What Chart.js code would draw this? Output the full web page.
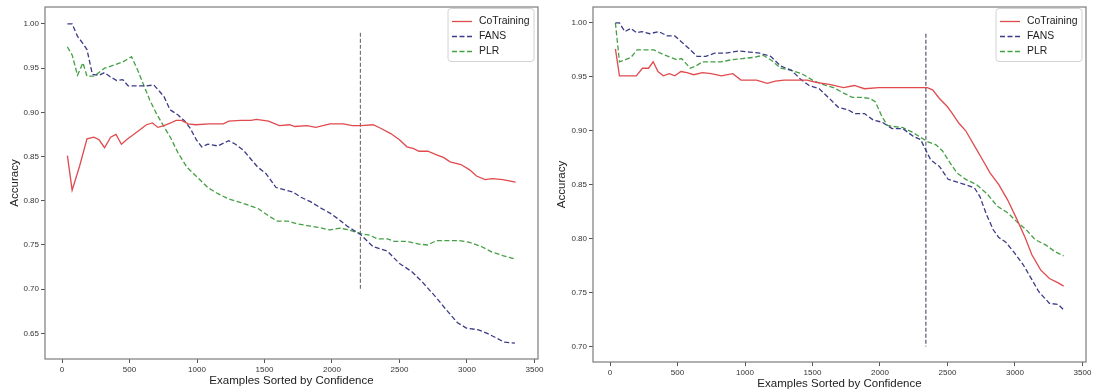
<!DOCTYPE html>
<html>
<head>
<meta charset="utf-8">
<script src="https://cdn.jsdelivr.net/npm/chart.js@4.4.1/dist/chart.umd.min.js"></script>
<style>
  html, body { margin: 0; padding: 0; background: #ffffff; }
  #wrap { position: relative; width: 1094px; height: 392px; }
  canvas { position: absolute; top: 0; }
  #cLeft { left: 0; }
  #cRight { left: 547px; }
</style>
</head>
<body>
<div id="wrap">
  <canvas id="cLeft" width="547" height="392"></canvas>
  <canvas id="cRight" width="547" height="392"></canvas>
</div>
<script>
// ---------- data ----------
const seriesNames = ['CoTraining', 'FANS', 'PLR'];
const xTicks = [0, 500, 1000, 1500, 2000, 2500, 3000, 3500];
const leftYTicks = [0.65, 0.70, 0.75, 0.80, 0.85, 0.90, 0.95, 1.00];
const rightYTicks = [0.70, 0.75, 0.80, 0.85, 0.90, 0.95, 1.00];

// Left panel
const leftCoX = [40, 75, 130, 185, 235, 275, 315, 360, 400, 440, 485, 530, 575, 625, 670, 710, 755, 805, 845, 885, 935, 990, 1090, 1195, 1235, 1325, 1400, 1440, 1530, 1610, 1685, 1725, 1815, 1880, 1985, 2085, 2150, 2215, 2305, 2360, 2435, 2500, 2555, 2605, 2645, 2710, 2775, 2825, 2875, 2955, 3020, 3070, 3135, 3185, 3265, 3360];
const leftCoY = [0.851, 0.812, 0.839, 0.870, 0.872, 0.869, 0.860, 0.872, 0.875, 0.864, 0.870, 0.875, 0.880, 0.886, 0.888, 0.883, 0.885, 0.888, 0.891, 0.891, 0.887, 0.886, 0.887, 0.887, 0.890, 0.891, 0.891, 0.892, 0.890, 0.885, 0.886, 0.884, 0.885, 0.883, 0.887, 0.887, 0.885, 0.885, 0.886, 0.882, 0.876, 0.869, 0.861, 0.859, 0.856, 0.856, 0.852, 0.849, 0.844, 0.841, 0.835, 0.828, 0.824, 0.825, 0.824, 0.821];

const leftFansX = [40, 75, 115, 150, 185, 225, 275, 315, 360, 405, 450, 490, 550, 625, 680, 715, 755, 800, 860, 910, 950, 995, 1035, 1080, 1155, 1235, 1285, 1345, 1400, 1450, 1510, 1585, 1660, 1710, 1770, 1840, 1915, 1985, 2050, 2115, 2210, 2305, 2410, 2500, 2590, 2670, 2775, 2850, 2930, 2995, 3085, 3150, 3215, 3275, 3355];
const leftFansY = [1.000, 1.000, 0.986, 0.979, 0.971, 0.943, 0.942, 0.945, 0.940, 0.936, 0.937, 0.930, 0.930, 0.930, 0.931, 0.925, 0.918, 0.903, 0.897, 0.890, 0.882, 0.869, 0.861, 0.864, 0.862, 0.868, 0.864, 0.857, 0.847, 0.838, 0.831, 0.815, 0.812, 0.810, 0.804, 0.799, 0.792, 0.786, 0.779, 0.771, 0.762, 0.748, 0.743, 0.729, 0.720, 0.708, 0.690, 0.676, 0.662, 0.656, 0.654, 0.650, 0.645, 0.640, 0.639];

const leftPlrX = [40, 75, 115, 155, 185, 240, 315, 395, 450, 515, 560, 605, 650, 705, 755, 805, 860, 925, 1000, 1080, 1155, 1235, 1325, 1400, 1455, 1530, 1595, 1675, 1740, 1815, 1895, 1985, 2060, 2125, 2210, 2280, 2335, 2410, 2460, 2555, 2645, 2710, 2775, 2865, 2940, 3020, 3110, 3185, 3265, 3360];
const leftPlrY = [0.974, 0.965, 0.942, 0.956, 0.941, 0.941, 0.950, 0.954, 0.957, 0.963, 0.948, 0.931, 0.914, 0.897, 0.884, 0.871, 0.854, 0.838, 0.827, 0.815, 0.808, 0.802, 0.798, 0.794, 0.791, 0.783, 0.777, 0.777, 0.774, 0.772, 0.770, 0.767, 0.769, 0.767, 0.763, 0.761, 0.757, 0.757, 0.754, 0.754, 0.751, 0.750, 0.755, 0.755, 0.755, 0.753, 0.748, 0.742, 0.738, 0.734];

const leftCutX = [2210, 2210];
const leftCutY = [0.990, 0.700];

// Right panel
const rightCoX = [40, 70, 130, 195, 240, 285, 320, 355, 395, 440, 480, 525, 570, 620, 685, 750, 825, 910, 970, 1020, 1085, 1165, 1225, 1290, 1395, 1460, 1525, 1625, 1730, 1810, 1885, 1990, 2080, 2170, 2275, 2350, 2390, 2440, 2495, 2530, 2585, 2635, 2700, 2765, 2815, 2880, 2945, 3010, 3075, 3125, 3190, 3255, 3320, 3360];
const rightCoY = [0.976, 0.951, 0.951, 0.951, 0.958, 0.958, 0.964, 0.955, 0.951, 0.953, 0.951, 0.955, 0.954, 0.952, 0.954, 0.953, 0.951, 0.953, 0.947, 0.947, 0.947, 0.944, 0.946, 0.947, 0.947, 0.947, 0.945, 0.943, 0.940, 0.942, 0.939, 0.940, 0.940, 0.940, 0.940, 0.940, 0.938, 0.930, 0.923, 0.917, 0.907, 0.900, 0.886, 0.872, 0.861, 0.850, 0.836, 0.819, 0.801, 0.785, 0.771, 0.763, 0.759, 0.756];

const rightFansX = [40, 70, 110, 155, 195, 235, 295, 360, 425, 480, 515, 570, 645, 710, 775, 855, 955, 1035, 1110, 1190, 1265, 1345, 1410, 1475, 1550, 1625, 1690, 1770, 1810, 1885, 1950, 2015, 2090, 2170, 2245, 2300, 2340, 2375, 2440, 2505, 2555, 2635, 2700, 2740, 2790, 2840, 2880, 2930, 2995, 3060, 3125, 3175, 3255, 3320, 3360];
const rightFansY = [1.000, 1.000, 0.992, 0.995, 0.991, 0.992, 0.990, 0.992, 0.988, 0.988, 0.984, 0.978, 0.969, 0.969, 0.972, 0.972, 0.974, 0.973, 0.972, 0.969, 0.960, 0.956, 0.948, 0.942, 0.939, 0.930, 0.922, 0.919, 0.916, 0.916, 0.910, 0.908, 0.902, 0.902, 0.895, 0.892, 0.882, 0.873, 0.867, 0.855, 0.853, 0.850, 0.847, 0.839, 0.822, 0.808, 0.801, 0.797, 0.787, 0.776, 0.762, 0.751, 0.740, 0.739, 0.734];

const rightPlrX = [40, 70, 115, 155, 200, 285, 325, 390, 450, 495, 530, 595, 635, 685, 750, 825, 905, 980, 1060, 1135, 1200, 1265, 1345, 1420, 1500, 1575, 1655, 1730, 1795, 1860, 1925, 1965, 2015, 2055, 2105, 2170, 2235, 2300, 2350, 2415, 2465, 2520, 2570, 2635, 2715, 2790, 2870, 2945, 3010, 3085, 3150, 3230, 3295, 3360];
const rightPlrY = [1.000, 0.964, 0.966, 0.968, 0.975, 0.975, 0.975, 0.971, 0.968, 0.966, 0.967, 0.958, 0.960, 0.964, 0.964, 0.964, 0.966, 0.967, 0.968, 0.970, 0.965, 0.958, 0.956, 0.953, 0.947, 0.943, 0.940, 0.935, 0.931, 0.931, 0.930, 0.927, 0.913, 0.905, 0.904, 0.903, 0.899, 0.894, 0.890, 0.887, 0.881, 0.870, 0.861, 0.855, 0.850, 0.842, 0.830, 0.824, 0.816, 0.808, 0.799, 0.794, 0.788, 0.784];

const rightCutX = [2340, 2340];
const rightCutY = [0.990, 0.700];

// ---------- styling ----------
const FONT = '"Liberation Sans", Arial, sans-serif';
const colors = { co: '#e04a4e', fans: '#3b3b88', plr: '#45a045' };

function pts(xs, ys) { return xs.map((x, i) => ({ x: x, y: ys[i] })); }

function seriesSet(coX, coY, fX, fY, pX, pY, cutX, cutY, cutColor) {
  return [
    { label: seriesNames[0], data: pts(coX, coY), borderColor: colors.co, borderWidth: 1.3, borderDash: [] },
    { label: seriesNames[1], data: pts(fX, fY), borderColor: colors.fans, borderWidth: 1.3, borderDash: [5, 2.5] },
    { label: seriesNames[2], data: pts(pX, pY), borderColor: colors.plr, borderWidth: 1.3, borderDash: [5, 2.5] },
    { label: '', skipLegend: true, data: pts(cutX, cutY), borderColor: cutColor, borderWidth: 1, borderDash: [4, 2] }
  ];
}

const framePlugin = {
  id: 'axesFrame',
  afterDatasetsDraw(chart) {
    const { ctx, chartArea: a } = chart;
    ctx.save();
    ctx.strokeStyle = '#7c7c7c';
    ctx.lineWidth = 1.2;
    ctx.strokeRect(a.left, a.top, a.right - a.left, a.bottom - a.top);
    ctx.restore();
  }
};

const legendPlugin = {
  id: 'boxLegend',
  afterDraw(chart) {
    const { ctx, chartArea: a } = chart;
    const items = chart.data.datasets.filter(d => !d.skipLegend);
    const w = 86, h = 53;
    const right = a.right - 4, left = right - w, top = a.top + 1.5;
    ctx.save();
    ctx.beginPath();
    if (ctx.roundRect) ctx.roundRect(left, top, w, h, 3); else ctx.rect(left, top, w, h);
    ctx.fillStyle = 'rgba(255,255,255,0.85)';
    ctx.fill();
    ctx.strokeStyle = '#d2d2d2';
    ctx.lineWidth = 1;
    ctx.stroke();
    items.forEach((d, i) => {
      const y = top + 13 + i * 15;
      ctx.strokeStyle = d.borderColor;
      ctx.lineWidth = d.borderWidth;
      ctx.setLineDash(d.borderDash || []);
      ctx.beginPath();
      ctx.moveTo(left + 4, y);
      ctx.lineTo(left + 24, y);
      ctx.stroke();
      ctx.setLineDash([]);
      ctx.fillStyle = '#222222';
      ctx.font = '10.4px ' + FONT;
      ctx.textBaseline = 'middle';
      ctx.textAlign = 'left';
      ctx.fillText(d.label, left + 31, y);
    });
    ctx.restore();
  }
};

function makeChart(id, datasets, yMin, yMax, yTicks, opts) {
  return new Chart(document.getElementById(id), {
    type: 'line',
    data: { datasets: datasets },
    options: {
      responsive: false,
      devicePixelRatio: 1,
      animation: false,
      parsing: true,
      elements: { point: { radius: 0 }, line: { tension: 0, fill: false } },
      layout: { padding: { top: 7, right: opts.padRight, left: 0, bottom: 0 } },
      plugins: { legend: { display: false }, tooltip: { enabled: false } },
      scales: {
        x: {
          type: 'linear',
          min: -126, max: 3526,
          afterFit: s => { s.height = opts.xAxisHeight; },
          afterBuildTicks: s => { s.ticks = xTicks.map(v => ({ value: v })); },
          grid: { drawOnChartArea: false, drawTicks: true, tickLength: 4, tickColor: '#555' },
          border: { display: false },
          ticks: { font: { family: FONT, size: 8 }, color: '#333', padding: 2, maxRotation: 0, autoSkip: false, callback: v => String(v) },
          title: { display: true, text: 'Examples Sorted by Confidence', font: { family: FONT, size: 11.5 }, color: '#222', padding: { top: 0, bottom: opts.xTitlePad } }
        },
        y: {
          type: 'linear',
          min: yMin, max: yMax,
          afterFit: s => { s.width = opts.yAxisWidth; },
          afterBuildTicks: s => { s.ticks = yTicks.map(v => ({ value: v })); },
          grid: { drawOnChartArea: false, drawTicks: true, tickLength: 4, tickColor: '#555' },
          border: { display: false },
          ticks: { font: { family: FONT, size: 8 }, color: '#333', padding: 2, autoSkip: false, callback: v => Number(v).toFixed(2) },
          title: { display: true, text: 'Accuracy', font: { family: FONT, size: 11.5 }, color: '#222', padding: { top: 8, bottom: 0 } }
        }
      }
    },
    plugins: [framePlugin, legendPlugin]
  });
}

makeChart('cLeft',
  seriesSet(leftCoX, leftCoY, leftFansX, leftFansY, leftPlrX, leftPlrY, leftCutX, leftCutY, '#5a5a5a'),
  0.621, 1.0192, leftYTicks,
  { padRight: 9, xAxisHeight: 33, yAxisWidth: 45, xTitlePad: 4 });

makeChart('cRight',
  seriesSet(rightCoX, rightCoY, rightFansX, rightFansY, rightPlrX, rightPlrY, rightCutX, rightCutY, '#34345a'),
  0.6856, 1.0148, rightYTicks,
  { padRight: 8, xAxisHeight: 30, yAxisWidth: 46, xTitlePad: 1 });
</script>
</body>
</html>
